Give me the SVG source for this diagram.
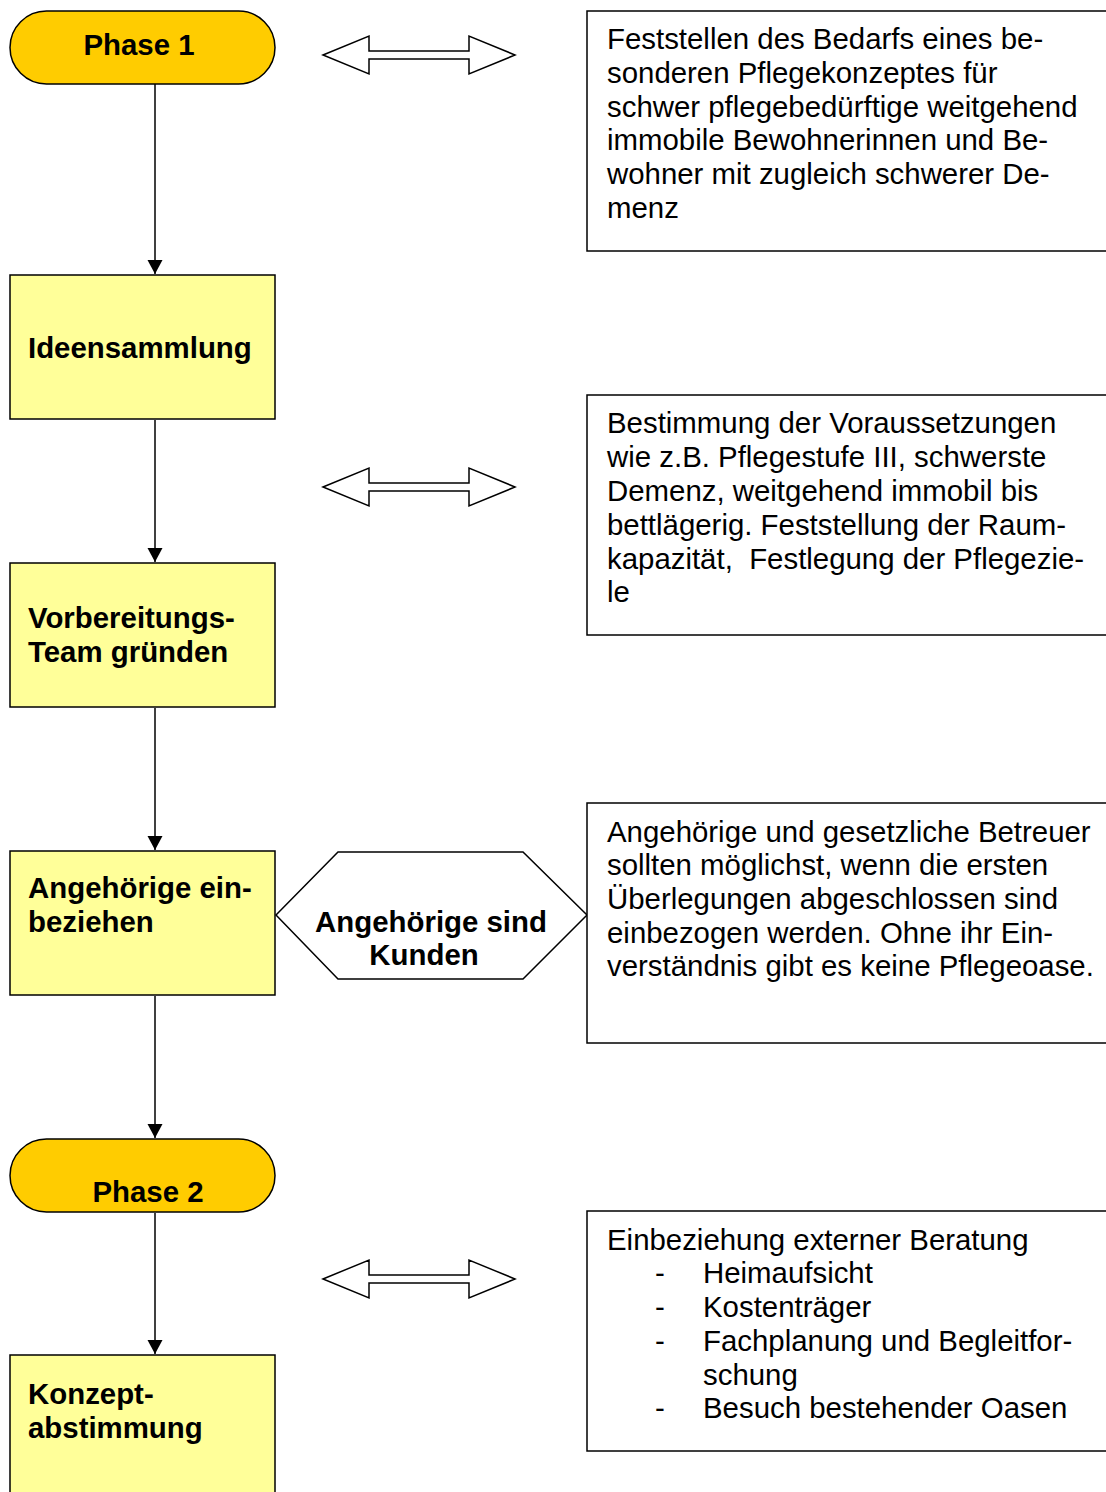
<svg xmlns="http://www.w3.org/2000/svg" width="1106" height="1492" viewBox="0 0 1106 1492">
<style>
text{font-family:"Liberation Sans",Arial,sans-serif;font-size:29.4px;fill:#000}
.b{font-weight:bold}
.term{fill:#FFCC00;stroke:#000;stroke-width:1.5}
.proc{fill:#FFFF99;stroke:#000;stroke-width:1.5}
.note{fill:#fff;stroke:#000;stroke-width:1.5}
.conn{stroke:#000;stroke-width:1.5;fill:none}
.dbl{fill:#fff;stroke:#000;stroke-width:1.5}
</style>
<defs>
<marker id="ah" markerWidth="15" markerHeight="16" refX="14" refY="7.5" orient="auto" markerUnits="userSpaceOnUse">
<path d="M0,0 L14,7.5 L0,15 Z" fill="#000"/>
</marker>
<path id="dblarrow" d="M0,0 L46,-19 L46,-4 L146,-4 L146,-19 L192,0 L146,19 L146,4 L46,4 L46,19 Z"/>
</defs>
<rect width="1106" height="1492" fill="#fff"/>

<g id="connectors">
<line class="conn" x1="155" y1="84" x2="155" y2="274" marker-end="url(#ah)"/>
<line class="conn" x1="155" y1="420" x2="155" y2="562" marker-end="url(#ah)"/>
<line class="conn" x1="155" y1="708" x2="155" y2="850" marker-end="url(#ah)"/>
<line class="conn" x1="155" y1="996" x2="155" y2="1138" marker-end="url(#ah)"/>
<line class="conn" x1="155" y1="1213" x2="155" y2="1354" marker-end="url(#ah)"/>
<use href="#dblarrow" class="dbl" x="323" y="55"/>
<use href="#dblarrow" class="dbl" x="323" y="487"/>
<use href="#dblarrow" class="dbl" x="323" y="1279"/>
</g>

<g id="phase1">
<rect class="term" x="10" y="11" width="265" height="73" rx="36.5"/>
<text class="b" x="139" y="55" text-anchor="middle">Phase 1</text>
</g>

<g id="ideensammlung">
<rect class="proc" x="10" y="275" width="265" height="144"/>
<text class="b" x="28" y="358">Ideensammlung</text>
</g>

<g id="vorbereitung">
<rect class="proc" x="10" y="563" width="265" height="144"/>
<text class="b" x="28" y="628">Vorbereitungs-</text>
<text class="b" x="28" y="662">Team gründen</text>
</g>

<g id="angehoerige">
<rect class="proc" x="10" y="851" width="265" height="144"/>
<text class="b" x="28" y="898">Angehörige ein-</text>
<text class="b" x="28" y="932">beziehen</text>
</g>

<g id="kunden">
<polygon class="note" points="276,915 338,852 523,852 587,915 523,979 338,979"/>
<text class="b" x="431" y="932" text-anchor="middle">Angehörige sind</text>
<text class="b" x="424" y="965" text-anchor="middle">Kunden</text>
</g>

<g id="phase2">
<rect class="term" x="10" y="1139" width="265" height="73" rx="36.5"/>
<text class="b" x="148" y="1202" text-anchor="middle">Phase 2</text>
</g>

<g id="konzept">
<rect class="proc" x="10" y="1355" width="265" height="150"/>
<text class="b" x="28" y="1404">Konzept-</text>
<text class="b" x="28" y="1438">abstimmung</text>
</g>

<g id="note1">
<rect class="note" x="587" y="11" width="530" height="240"/>
<text x="607" y="49">Feststellen des Bedarfs eines be-</text>
<text x="607" y="83">sonderen Pflegekonzeptes für</text>
<text x="607" y="117">schwer pflegebedürftige weitgehend</text>
<text x="607" y="150">immobile Bewohnerinnen und Be-</text>
<text x="607" y="184">wohner mit zugleich schwerer De-</text>
<text x="607" y="218">menz</text>
</g>

<g id="note2">
<rect class="note" x="587" y="395" width="530" height="240"/>
<text x="607" y="433">Bestimmung der Voraussetzungen</text>
<text x="607" y="467">wie z.B. Pflegestufe III, schwerste</text>
<text x="607" y="501">Demenz, weitgehend immobil bis</text>
<text x="607" y="535">bettlägerig. Feststellung der Raum-</text>
<text x="607" y="569" xml:space="preserve">kapazität,  Festlegung der Pflegezie-</text>
<text x="607" y="602">le</text>
</g>

<g id="note3">
<rect class="note" x="587" y="803" width="530" height="240"/>
<text x="607" y="842">Angehörige und gesetzliche Betreuer</text>
<text x="607" y="875">sollten möglichst, wenn die ersten</text>
<text x="607" y="909">Überlegungen abgeschlossen sind</text>
<text x="607" y="943">einbezogen werden. Ohne ihr Ein-</text>
<text x="607" y="976">verständnis gibt es keine Pflegeoase.</text>
</g>

<g id="note4">
<rect class="note" x="587" y="1211" width="530" height="240"/>
<text x="607" y="1250">Einbeziehung externer Beratung</text>
<text x="655" y="1283">-</text><text x="703" y="1283">Heimaufsicht</text>
<text x="655" y="1317">-</text><text x="703" y="1317">Kostenträger</text>
<text x="655" y="1351">-</text><text x="703" y="1351">Fachplanung und Begleitfor-</text>
<text x="703" y="1385">schung</text>
<text x="655" y="1418">-</text><text x="703" y="1418">Besuch bestehender Oasen</text>
</g>
</svg>
